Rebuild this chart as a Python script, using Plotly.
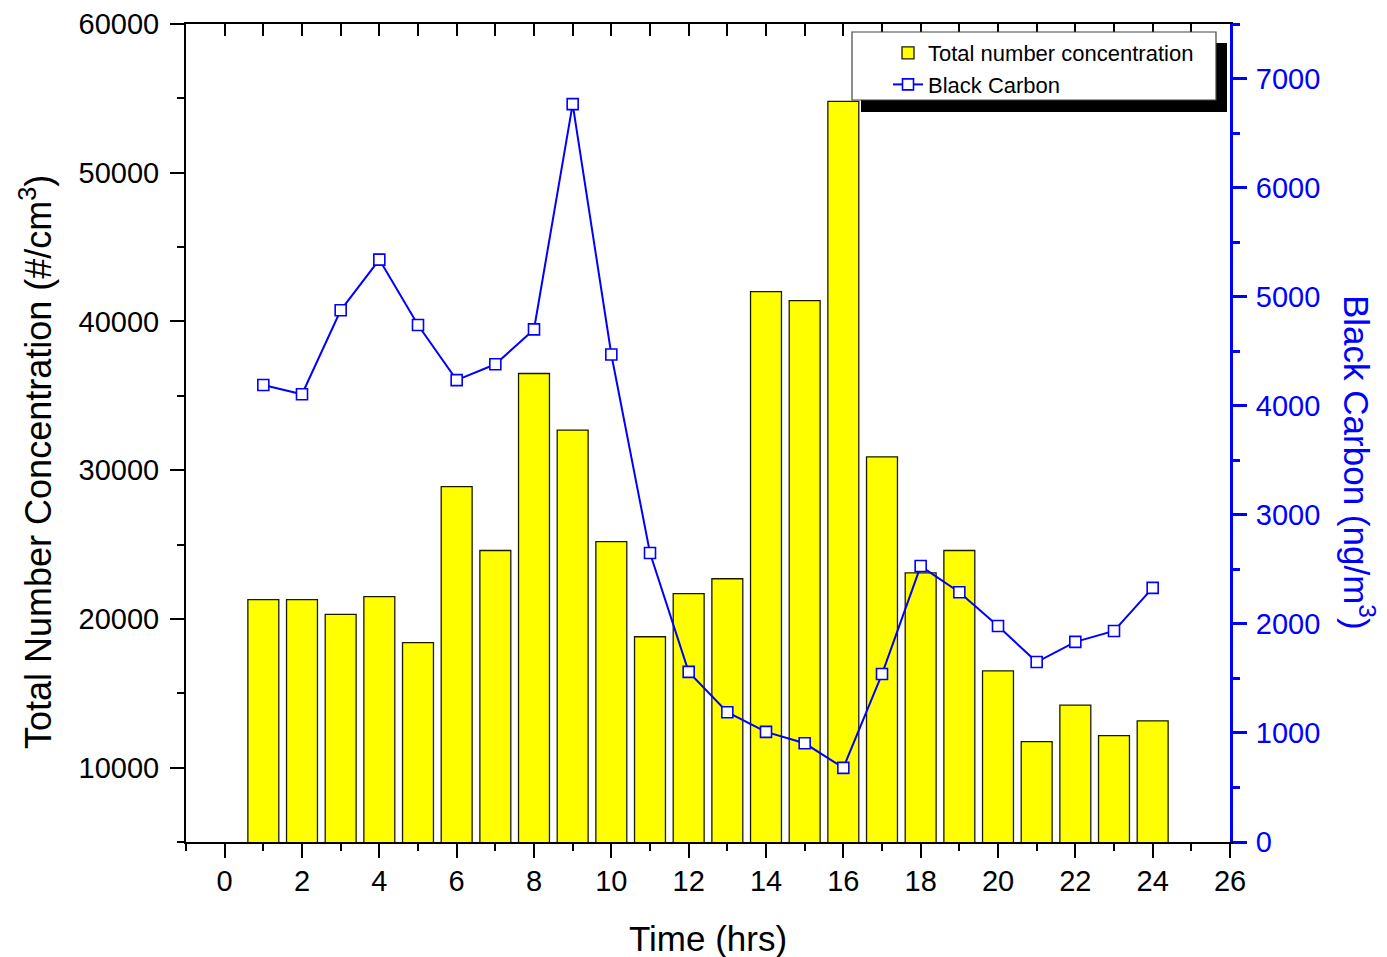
import plotly.graph_objects as go

# ---- data ----
hours = list(range(1, 25))
total_number = [21300, 21300, 20300, 21500, 18400, 28900, 24600, 36500, 32700, 25200,
                18800, 21700, 22700, 42000, 41400, 54800, 30900, 23100, 24600, 16500,
                11750, 14200, 12150, 13150]
black_carbon = [4190, 4105, 4875, 5340, 4740, 4235, 4380, 4700, 6765, 4470,
                2650, 1560, 1190, 1010, 905, 680, 1540, 2530, 2290, 1980,
                1650, 1835, 1935, 2330]

# page body has an 8px margin, so the figure is made 8px smaller each way
PAGE_OFF = 8
W, H = 1387 - PAGE_OFF, 957 - PAGE_OFF
PLOT_L, PLOT_T, PW, PH = 186, 24, 1044, 818     # plot area in screen pixels
ML, MT = PLOT_L - PAGE_OFF, PLOT_T - PAGE_OFF
MR, MB = W - ML - PW, H - MT - PH

def px(x):
    return (x - PLOT_L) / PW

def py(y):
    return 1 - (y - PLOT_T) / PH

FONT = "Liberation Sans, Arial, sans-serif"

fig = go.Figure()
fig.add_trace(go.Bar(
    x=hours, y=total_number, name="Total number concentration",
    width=0.8, marker=dict(color="#FFFF00", line=dict(color="#1a1a00", width=1.3)),
))
fig.add_trace(go.Scatter(
    x=hours, y=black_carbon, name="Black Carbon", yaxis="y2",
    mode="lines+markers",
    line=dict(color="#0000FF", width=2),
    marker=dict(symbol="square", size=11, color="white", line=dict(color="#0000FF", width=1.6)),
))
# helper trace so the mirrored top axis is drawn
fig.add_trace(go.Scatter(x=[0], y=[None], xaxis="x2", showlegend=False, hoverinfo="skip"))

tickfont = dict(family=FONT, size=29, color="black")
fig.update_layout(
    width=W, height=H,
    margin=dict(l=ML, r=MR, t=MT, b=MB, autoexpand=False),
    paper_bgcolor="white", plot_bgcolor="white",
    font=dict(family=FONT),
    xaxis=dict(range=[-1, 26], tick0=0, dtick=2, ticks="outside", ticklen=14, tickwidth=2,
               tickcolor="black", showline=True, linecolor="black", linewidth=2,
               showgrid=False, zeroline=False, tickfont=tickfont, automargin=False,
               ticklabelstandoff=-2,
               minor=dict(dtick=1, tick0=0, ticks="outside", ticklen=7, tickwidth=2, tickcolor="black")),
    xaxis2=dict(range=[-1, 26], overlaying="x", side="top", anchor="y", tick0=0, dtick=1,
                ticks="inside", ticklen=12, tickwidth=2, tickcolor="black", automargin=False,
                showline=True, linecolor="black", linewidth=2, showgrid=False,
                zeroline=False, showticklabels=False),
    yaxis=dict(range=[5000, 60000], tick0=0, dtick=10000, ticks="outside", ticklen=14, tickwidth=2,
               tickcolor="black", showline=True, linecolor="black", linewidth=2,
               showgrid=False, zeroline=False, tickfont=tickfont, tickformat="d",
               automargin=False, ticklabelstandoff=5,
               minor=dict(dtick=5000, tick0=0, ticks="outside", ticklen=7, tickwidth=2, tickcolor="black")),
    yaxis2=dict(range=[0, 7500], overlaying="y", side="right", tick0=0, dtick=1000,
                ticks="outside", ticklen=14, tickwidth=3, tickcolor="#0000FF",
                showline=True, linecolor="#0000FF", linewidth=3, showgrid=False, zeroline=False,
                tickfont=dict(family=FONT, size=29, color="#0000FF"), tickformat="d",
                automargin=False, ticklabelstandoff=3,
                minor=dict(dtick=500, tick0=0, ticks="outside", ticklen=7, tickwidth=3, tickcolor="#0000FF")),
    legend=dict(x=px(888), y=py(32), xanchor="left", yanchor="top",
                bgcolor="rgba(0,0,0,0)", borderwidth=0,
                font=dict(family=FONT, size=22, color="black"),
                tracegroupgap=0),
    showlegend=True,
)

# legend box with shadow
fig.add_shape(type="rect", xref="paper", yref="paper", layer="above",
              x0=px(861), x1=px(1227), y0=py(112), y1=py(43),
              fillcolor="black", line=dict(width=0))
fig.add_shape(type="rect", xref="paper", yref="paper", layer="above",
              x0=px(852), x1=px(1216), y0=py(100), y1=py(32),
              fillcolor="white", line=dict(color="#444444", width=1.2))

# axis titles
fig.add_annotation(text="Time (hrs)", xref="paper", yref="paper", x=px(708), y=py(938),
                   showarrow=False, font=dict(family=FONT, size=35, color="black"),
                   xanchor="center", yanchor="middle")
fig.add_annotation(text="Total Number Concentration (#/cm<sup>3</sup>)", xref="paper", yref="paper",
                   x=px(36), y=py(462), textangle=-90, showarrow=False,
                   font=dict(family=FONT, size=36, color="black"),
                   xanchor="center", yanchor="middle")
fig.add_annotation(text="Black Carbon (ng/m<sup>3</sup>)", xref="paper", yref="paper",
                   x=px(1359), y=py(462), textangle=90, showarrow=False,
                   font=dict(family=FONT, size=35, color="#0000FF"),
                   xanchor="center", yanchor="middle")

fig.write_html("out.html")
